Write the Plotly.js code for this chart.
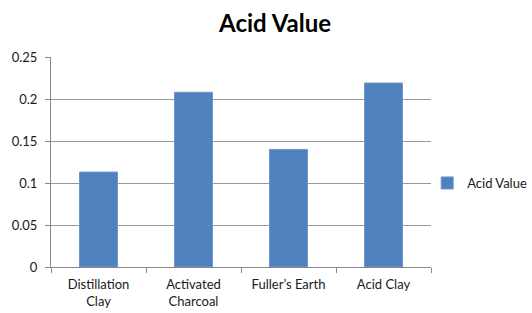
<!DOCTYPE html>
<html><head><meta charset="utf-8">
<script src="https://cdn.plot.ly/plotly-3.0.1.min.js"></script>
<style>html,body{margin:0;padding:0;background:#fff}#c{width:532px;height:313px}</style>
</head><body><div id="c"></div>
<script>
const categories = ["Distillation<br>Clay", "Activated<br>Charcoal", "Fuller\u2019s Earth", "Acid Clay"];
const acidValue = [0.113, 0.208, 0.140, 0.219];
const seriesName = "Acid Value";
const yTicks = [0, 0.05, 0.1, 0.15, 0.2, 0.25];

const font = "Lato, 'Open Sans', sans-serif";
Plotly.newPlot('c', [{
  type: 'bar', x: categories, y: acidValue, name: seriesName,
  marker: {color: '#4F81BD', line: {color: '#6F97CB', width: 1}}
}], {
  width: 532, height: 313,
  margin: {l: 51, r: 101, t: 57, b: 46, autoexpand: false},
  paper_bgcolor: '#fff', plot_bgcolor: '#fff',
  font: {family: font, size: 13, color: '#1a1a1a'},
  title: {text: '<b>Acid Value</b>', font: {family: font, size: 24, color: '#000'}, x: 0.517, xanchor: 'center', y: 0.925, yanchor: 'middle'},
  bargap: 0.6,
  showlegend: true,
  legend: {x: 0.99, xanchor: 'left', y: 0.40, yanchor: 'middle', font: {family: font, size: 13, color: '#1a1a1a'}, itemwidth: 30, bgcolor: 'rgba(0,0,0,0)'},
  xaxis: {showline: true, linecolor: '#888', linewidth: 1, ticks: 'outside', tickson: 'boundaries', ticklen: 5, tickcolor: '#888', showgrid: false, tickfont: {size: 13}, ticklabelstandoff: 5},
  yaxis: {range: [0, 0.25], tickvals: yTicks, showline: true, linecolor: '#888', ticks: 'outside', ticklen: 5, tickcolor: '#888', gridcolor: '#999', gridwidth: 1, zeroline: false, tickfont: {size: 13}, ticklabelstandoff: 5}
}, {displayModeBar: false, staticPlot: true});
</script></body></html>
